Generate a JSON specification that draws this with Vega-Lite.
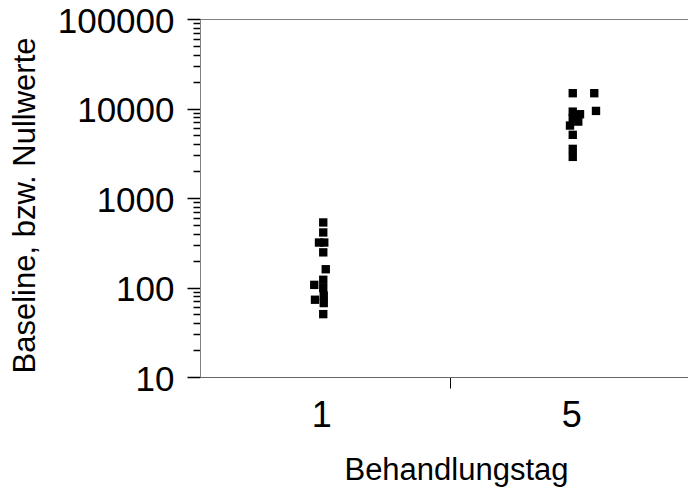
{
  "$schema": "https://vega.github.io/schema/vega-lite/v6.json",
  "width": 512,
  "height": 358,
  "autosize": "none",
  "padding": {"left": 200, "top": 19, "right": 0, "bottom": 111},
  "background": "white",
  "config": {
    "view": {"stroke": "#808080", "strokeWidth": 1},
    "font": "Liberation Sans"
  },
  "data": {
    "values": [
      {"tag": 1, "pos": 0.493, "wert": 533},
      {"tag": 1, "pos": 0.493, "wert": 412},
      {"tag": 1, "pos": 0.476, "wert": 318},
      {"tag": 1, "pos": 0.497, "wert": 318},
      {"tag": 1, "pos": 0.493, "wert": 247},
      {"tag": 1, "pos": 0.503, "wert": 160},
      {"tag": 1, "pos": 0.493, "wert": 122},
      {"tag": 1, "pos": 0.457, "wert": 107},
      {"tag": 1, "pos": 0.493, "wert": 98.6},
      {"tag": 1, "pos": 0.46, "wert": 73},
      {"tag": 1, "pos": 0.495, "wert": 81},
      {"tag": 1, "pos": 0.495, "wert": 67},
      {"tag": 1, "pos": 0.493, "wert": 50.4},
      {"tag": 5, "pos": 1.491, "wert": 14820},
      {"tag": 5, "pos": 1.577, "wert": 14820},
      {"tag": 5, "pos": 1.584, "wert": 9400},
      {"tag": 5, "pos": 1.491, "wert": 9230},
      {"tag": 5, "pos": 1.52, "wert": 8630},
      {"tag": 5, "pos": 1.491, "wert": 7800},
      {"tag": 5, "pos": 1.513, "wert": 7140},
      {"tag": 5, "pos": 1.48, "wert": 6450},
      {"tag": 5, "pos": 1.491, "wert": 5080},
      {"tag": 5, "pos": 1.491, "wert": 3540},
      {"tag": 5, "pos": 1.491, "wert": 2880}
    ]
  },
  "mark": {"type": "point", "shape": "square", "filled": true, "color": "black", "opacity": 1, "size": 70},
  "encoding": {
    "x": {
      "field": "pos",
      "type": "quantitative",
      "scale": {"domain": [0, 2.048], "nice": false, "zero": false},
      "axis": {
        "title": "Behandlungstag",
        "titleFontSize": 31,
        "titleFontWeight": "normal",
        "titleColor": "black",
        "titlePadding": 22,
        "values": [0.485, 1, 1.485],
        "labelExpr": "datum.value < 0.7 ? '1' : (datum.value > 1.2 ? '5' : '')",
        "labelFontSize": 36,
        "labelColor": "black",
        "labelPadding": 10,
        "labelOverlap": false,
        "labelFlush": false,
        "tickSize": 11,
        "tickColor": "black",
        "tickOpacity": {"condition": {"test": "datum.value == 1", "value": 1}, "value": 0},
        "domainColor": "#666666",
        "grid": false
      }
    },
    "y": {
      "field": "wert",
      "type": "quantitative",
      "scale": {"type": "log", "domain": [10, 100000], "nice": false},
      "axis": {
        "title": "Baseline, bzw. Nullwerte",
        "titleFontSize": 31,
        "titleFontWeight": "normal",
        "titleColor": "black",
        "titlePadding": 16,
        "titleY": 186,
        "values": [10,20,30,40,50,60,70,80,90,100,200,300,400,500,600,700,800,900,1000,2000,3000,4000,5000,6000,7000,8000,9000,10000,20000,30000,40000,50000,60000,70000,80000,90000,100000],
        "labelExpr": "indexof([10,100,1000,10000,100000], datum.value) >= 0 ? format(datum.value, 'd') : ''",
        "labelFontSize": 35,
        "labelOffset": 2,
        "labelColor": "black",
        "labelPadding": 13,
        "labelOverlap": false,
        "labelFlush": false,
        "tickColor": "black",
        "tickWidth": 1.5,
        "tickSize": {"condition": {"test": "indexof([10,100,1000,10000,100000], datum.value) >= 0", "value": 13}, "value": 7},
        "domainColor": "#808080",
        "grid": false
      }
    }
  }
}
